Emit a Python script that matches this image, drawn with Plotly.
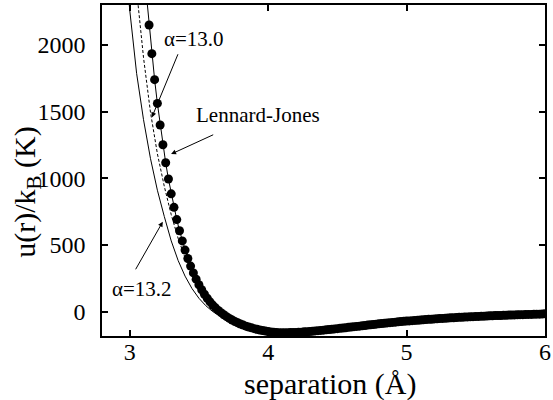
import numpy as np
import plotly.graph_objects as go

# ---- data ----
# dotted reference curve, sampled every 0.02 Å starting at 3.14 Å
dots_r_start = 3.14
dots_r_step = 0.02
dots_u = [
    2150, 1935, 1740, 1562, 1400, 1252, 1117, 995, 884, 783,
    691, 607, 531, 462, 399, 342, 291, 244, 202, 165,
    131, 101, 74, 50, 29, 10, -7, -23, -37, -50,
    -62, -73, -83, -92, -100, -108, -115, -121, -127, -132,
    -137, -141, -145, -149, -152, -154, -156, -157, -157, -157,
    -157, -156, -156, -155, -154, -153, -151, -150, -148, -146,
    -144, -142, -140, -138, -136, -134, -131, -129, -127, -124,
    -122, -120, -117, -115, -112, -110, -108, -105, -103, -100,
    -98, -96, -93, -91, -89, -87, -84, -82, -80, -78,
    -76, -74, -72, -70, -69, -67, -65, -64, -62, -60,
    -59, -57, -56, -54, -53, -51, -50, -49, -47, -46,
    -45, -44, -42, -41, -40, -39, -38, -37, -36, -35,
    -34, -33, -32, -31, -30, -29, -29, -28, -27, -26,
    -25, -25, -24, -23, -22, -22, -21, -20, -20, -19,
    -18, -18, -17, -16,
]
dots_r = [round(dots_r_start + i * dots_r_step, 2) for i in range(len(dots_u))]

# Lennard-Jones line through the dots (extends to the top of the frame)
lj_r = [3.12] + dots_r
lj_u = [2386] + dots_u

# alpha = 13.0 (dashed)
a130_r = [3.05, 3.06, 3.10, 3.15, 3.20, 3.25, 3.30, 3.35, 3.40, 3.45, 3.50,
          3.55, 3.60, 3.65, 3.70, 3.80, 3.90, 4.00, 4.20, 4.40, 4.60, 4.80,
          5.00, 5.20, 5.40, 5.60, 5.80, 6.00]
a130_u = [2410, 2300, 1905, 1497, 1185, 940, 728, 550, 405, 286, 187,
          108, 46, -1, -37, -92, -127, -149, -155, -138, -115, -91,
          -70, -54, -41, -31, -23, -16]

# alpha = 13.2 (thin solid)
a132_r = [2.99, 3.00, 3.05, 3.10, 3.15, 3.20, 3.25, 3.30, 3.35, 3.40, 3.45,
          3.50, 3.55, 3.60, 3.65, 3.70, 3.75, 3.80, 3.90, 4.00, 4.10, 4.20,
          4.40, 4.60, 4.80, 5.00, 5.20, 5.40, 5.60, 5.80, 6.00]
a132_u = [2386, 2265, 1787, 1440, 1150, 911, 714, 531, 384, 267, 174,
          101, 45, 1, -30, -59, -83, -102, -132, -151, -157, -155,
          -139, -116, -92, -71, -55, -41, -31, -23, -16]

x_ticks = [3, 4, 5, 6]
y_ticks = [0, 500, 1000, 1500, 2000]

FONT = "Liberation Serif"

fig = go.Figure()
fig.add_trace(go.Scatter(x=a132_r, y=a132_u, mode="lines",
                         line=dict(color="black", width=1), showlegend=False))
fig.add_trace(go.Scatter(x=a130_r, y=a130_u, mode="lines",
                         line=dict(color="black", width=1, dash="3px,2px"), showlegend=False))
fig.add_trace(go.Scatter(x=lj_r, y=lj_u, mode="lines",
                         line=dict(color="black", width=1), showlegend=False))
fig.add_trace(go.Scatter(x=dots_r, y=dots_u, mode="markers",
                         marker=dict(color="black", size=9), showlegend=False))

ann_font = dict(family=FONT, size=21, color="black")
arrow = dict(showarrow=True, arrowhead=2, arrowsize=1, arrowwidth=1,
             arrowcolor="black", axref="x", ayref="y", text="")
fig.add_annotation(x=3.160, y=1457, ax=3.353, ay=1942, **arrow)
fig.add_annotation(x=3.299, y=1182, ax=3.614, ay=1332, **arrow)
fig.add_annotation(x=3.239, y=675, ax=3.037, ay=307, **arrow)
fig.add_annotation(x=3.465, y=2048, text="α=13.0", showarrow=False, font=ann_font,
                   xanchor="center", yanchor="middle")
fig.add_annotation(x=3.93, y=1475, text="Lennard-Jones", showarrow=False, font=ann_font,
                   xanchor="center", yanchor="middle")
fig.add_annotation(x=3.09, y=170, text="α=13.2", showarrow=False, font=ann_font,
                   xanchor="center", yanchor="middle")
# axis titles placed as in the reference
fig.add_annotation(xref="paper", yref="paper", x=-0.170, y=0.435, textangle=-90,
                   text="u(r)/k<sub>B</sub>&nbsp;(K)", showarrow=False,
                   font=dict(family=FONT, size=30, color="black"),
                   xanchor="center", yanchor="middle")
fig.add_annotation(xref="paper", yref="paper", x=0.5145, y=-0.145,
                   text="separation (Å)", showarrow=False,
                   font=dict(family=FONT, size=30, color="black"),
                   xanchor="center", yanchor="middle")

axis_common = dict(showgrid=False, zeroline=False, showline=True, linecolor="black",
                   linewidth=1.5, mirror="ticks", ticks="inside", ticklen=6,
                   tickwidth=1.5, tickcolor="black", ticklabeloverflow="allow",
                   tickfont=dict(family=FONT, size=24, color="black"))
fig.update_xaxes(range=[2.8, 6.0], tickvals=x_ticks, ticklabelstandoff=-7,
                 **axis_common)
fig.update_yaxes(range=[-182, 2300], tickvals=y_ticks, ticklabelstandoff=10,
                 **axis_common)
fig.update_layout(width=553, height=400, margin=dict(l=102, r=2, t=5, b=64),
                  plot_bgcolor="white", paper_bgcolor="white")
fig.write_html("out.html")
